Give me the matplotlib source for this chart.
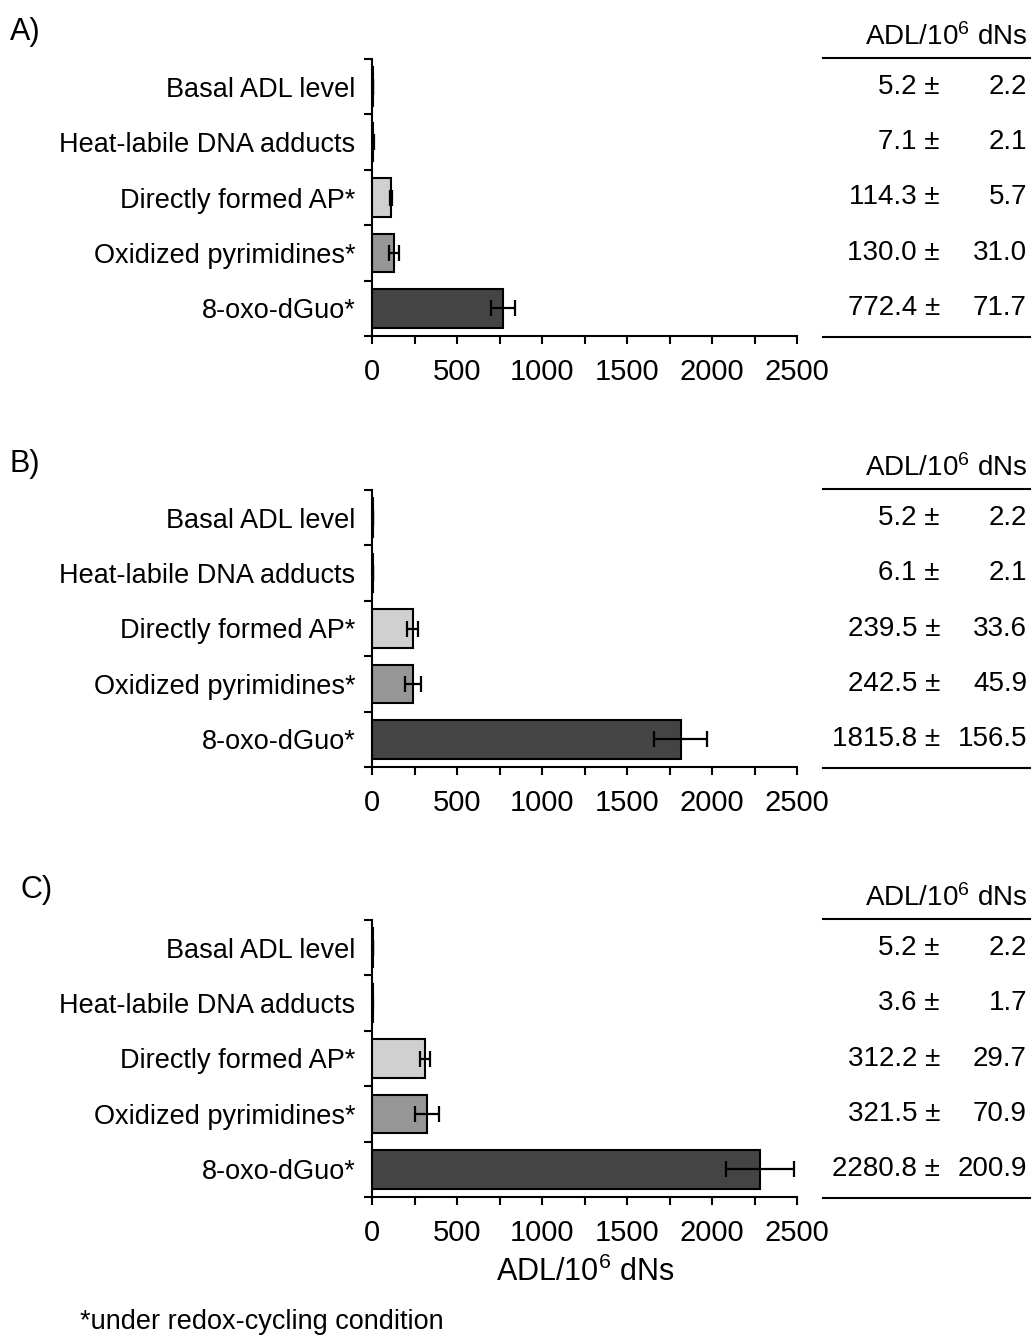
import matplotlib
matplotlib.use("Agg")
import matplotlib.pyplot as plt
from matplotlib.lines import Line2D
from matplotlib.transforms import blended_transform_factory
import numpy as np

plt.rcParams['font.family'] = ['Liberation Sans', 'DejaVu Sans']
plt.rcParams['mathtext.fontset'] = 'custom'
plt.rcParams['mathtext.rm'] = 'Liberation Sans'
plt.rcParams['mathtext.it'] = 'Liberation Sans'

CATEGORIES = ["Basal ADL level", "Heat-labile DNA adducts", "Directly formed AP*",
              "Oxidized pyrimidines*", "8-oxo-dGuo*"]
BAR_COLORS = ['#ffffff', '#f2f2f2', '#d0d0d0', '#969696', '#444444']

PANEL_LABELS = ["A)", "B)", "C)"]
MEANS_A = [5.2, 7.1, 114.3, 130.0, 772.4]
SDS_A = [2.2, 2.1, 5.7, 31.0, 71.7]
MEANS_B = [5.2, 6.1, 239.5, 242.5, 1815.8]
SDS_B = [2.2, 2.1, 33.6, 45.9, 156.5]
MEANS_C = [5.2, 3.6, 312.2, 321.5, 2280.8]
SDS_C = [2.2, 1.7, 29.7, 70.9, 200.9]

XTICKS = [0, 500, 1000, 1500, 2000, 2500]
UNIT = 'ADL/10$^{6}$ dNs'

W, H = 1031, 1336
fig = plt.figure(figsize=(W / 100, H / 100), dpi=100)

# (axes top px, axes bottom px, panel label x px, label y px)
panels = [
    (59, 336, 10, 32),
    (490, 767, 10, 464),
    (920, 1197, 20, 890),
]
data = [(MEANS_A, SDS_A), (MEANS_B, SDS_B), (MEANS_C, SDS_C)]

left_px, right_px = 372, 797
for (top, bot, lx, ly), (means, sds), lab in zip(panels, data, PANEL_LABELS):
    ax = fig.add_axes([left_px / W, 1 - bot / H, (right_px - left_px) / W, (bot - top) / H])
    y = np.arange(len(CATEGORIES))
    ax.barh(y, means, height=0.7, color=BAR_COLORS, edgecolor='black', linewidth=1.5)
    ax.errorbar(means, y, xerr=sds, fmt='none', ecolor='black', elinewidth=1.6,
                capsize=6, capthick=1.6)
    ax.set_ylim(len(CATEGORIES) - 0.5, -0.5)
    ax.set_xlim(0, 2500)
    ax.set_yticks(np.arange(len(CATEGORIES) + 1) - 0.5)
    ax.set_yticklabels([])
    ax.set_yticks(y, minor=True)
    ax.set_yticklabels(CATEGORIES, minor=True, fontsize=19.5)
    ax.tick_params(axis='y', which='minor', length=0, pad=12)
    ax.tick_params(axis='y', which='major', length=6, width=1.5, direction='out')
    ax.set_xticks(XTICKS)
    ax.set_xticks(np.arange(0, 2501, 250), minor=True)
    ax.tick_params(axis='x', which='both', length=6, width=1.5, direction='out', labelsize=21, pad=10)
    for s in ['top', 'right']:
        ax.spines[s].set_visible(False)
    for s in ['left', 'bottom']:
        ax.spines[s].set_linewidth(1.5)

    fig.text(lx / W, 1 - ly / H, lab, fontsize=22, ha='left', va='center')

    # table to the right
    tr = blended_transform_factory(fig.transFigure, ax.transData)
    fig.text(1027 / W, 1 - (top - 22) / H, UNIT, fontsize=20, ha='right', va='center')
    fig.add_artist(Line2D([823 / W, 1], [1 - (top - 1) / H] * 2, color='black', lw=1.5))
    fig.add_artist(Line2D([823 / W, 1], [1 - (bot + 1) / H] * 2, color='black', lw=1.5))
    for yi, m, s in zip(y, means, sds):
        ax.text(940 / W, yi, f"{m:.1f} \u00b1", transform=tr, fontsize=20, ha='right', va='center')
        ax.text(1027 / W, yi, f"{s:.1f}", transform=tr, fontsize=20, ha='right', va='center')

fig.text(585 / W, 1 - 1272 / H, UNIT, fontsize=22, ha='center', va='center')
fig.text(80 / W, 1 - 1322 / H, "*under redox-cycling condition", fontsize=19.5, ha='left', va='center')

fig.savefig("out.png", dpi=100)
